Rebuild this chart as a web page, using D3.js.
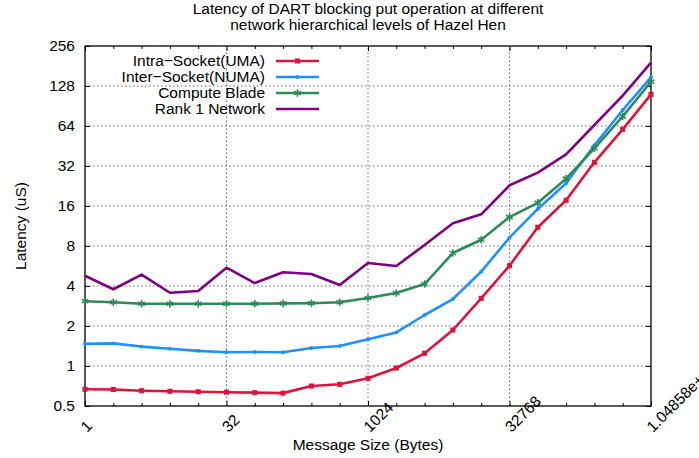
<!DOCTYPE html>
<html>
<head>
<meta charset="utf-8">
<script src="https://cdn.jsdelivr.net/npm/d3@7"></script>
<style>
  body { margin: 0; background: #fff; }
  svg { display: block; font-family: "Liberation Sans", Arial, sans-serif; }
</style>
</head>
<body>
<svg id="chart" width="699" height="458"></svg>
<script>
// Message sizes (bytes)
const sizes = [1, 2, 4, 8, 16, 32, 64, 128, 256, 512, 1024, 2048, 4096, 8192, 16384,
  32768, 65536, 131072, 262144, 524288, 1048576];

// Latency in microseconds per level
const intraSocket = [0.668, 0.665, 0.652, 0.645, 0.64, 0.635, 0.63, 0.625, 0.707, 0.728, 0.808,
  0.966, 1.246, 1.866, 3.23, 5.69, 11.06, 17.66, 34.1, 60.4, 110.8];
const interSocket = [1.47, 1.48, 1.40, 1.35, 1.30, 1.27, 1.275, 1.27, 1.366, 1.414, 1.59,
  1.79, 2.42, 3.19, 5.13, 9.24, 15.2, 23.7, 45.8, 84.4, 148.8];
const computeBlade = [3.07, 3.02, 2.94, 2.94, 2.94, 2.94, 2.94, 2.96, 2.97, 3.02, 3.25,
  3.54, 4.14, 7.09, 8.92, 13.2, 16.9, 25.7, 43.5, 75.7, 137.9];
const rank1Network = [4.78, 3.78, 4.87, 3.56, 3.67, 5.49, 4.21, 5.07, 4.92, 4.07, 5.96,
  5.66, 8.14, 11.86, 13.86, 22.9, 28.5, 39.2, 65.1, 108.2, 191.7];

const seriesNames = ["Intra\u2212Socket(UMA)", "Inter\u2212Socket(NUMA)", "Compute Blade", "Rank 1 Network"];
const xTickValues = [1, 32, 1024, 32768, 1048576];
const xTickLabels = ["1", "32", "1024", "32768", "1.04858e+06"];
const yTickValues = [0.5, 1, 2, 4, 8, 16, 32, 64, 128, 256];

const series = [
  { name: seriesNames[0], values: intraSocket, color: "#dc143c", marker: "square" },
  { name: seriesNames[1], values: interSocket, color: "#1e90ff", marker: "circle" },
  { name: seriesNames[2], values: computeBlade, color: "#2e8b57", marker: "star" },
  { name: seriesNames[3], values: rank1Network, color: "#800080", marker: "none" }
];

const margin = { top: 46, right: 48, bottom: 52, left: 85 };
const width = 699, height = 458;
const fs = "15.5px";

const svg = d3.select("#chart");
svg.selectAll("*").remove();

const x = d3.scaleLog().base(2).domain([1, 1048576]).range([margin.left, width - margin.right]);
const y = d3.scaleLog().base(2).domain([0.5, 256]).range([height - margin.bottom, margin.top]);

// Title
svg.append("text")
  .attr("x", 368).attr("y", 14)
  .attr("text-anchor", "middle").attr("font-size", fs)
  .selectAll("tspan")
  .data(["Latency of DART blocking put operation at different", "network hierarchical levels of Hazel Hen"])
  .enter().append("tspan")
  .attr("x", 368).attr("dy", (d, i) => i === 0 ? 0 : 16)
  .text(d => d);

// Grid
const grid = svg.append("g").attr("stroke", "#666").attr("stroke-width", 1).attr("stroke-dasharray", "1.5,2.5");
grid.selectAll("line.gy")
  .data(yTickValues.slice(1, -1))
  .enter().append("line")
  .attr("x1", x.range()[0]).attr("x2", x.range()[1])
  .attr("y1", d => y(d)).attr("y2", d => y(d));
grid.selectAll("line.gx")
  .data(xTickValues.slice(1, -1))
  .enter().append("line")
  .attr("x1", d => x(d)).attr("x2", d => x(d))
  .attr("y1", y.range()[0]).attr("y2", y.range()[1]);

// Axes (ticks pointing inward, mirrored)
const axisLeft = d3.axisLeft(y).tickValues(yTickValues).tickFormat(d => d).tickSizeInner(-5).tickSizeOuter(0).tickPadding(10);
svg.append("g").attr("transform", `translate(${margin.left},0)`).call(axisLeft)
  .call(g => g.select(".domain").remove())
  .call(g => g.selectAll("text").attr("font-size", fs).attr("fill", "#000").attr("font-family", null));

svg.append("g").attr("transform", `translate(${width - margin.right},0)`)
  .call(d3.axisRight(y).tickValues(yTickValues).tickFormat("").tickSizeInner(-5).tickSizeOuter(0))
  .call(g => g.select(".domain").remove());

const bottom = svg.append("g").attr("transform", `translate(0,${height - margin.bottom})`)
  .call(d3.axisBottom(x).tickValues(sizes).tickFormat("").tickSizeInner(-3).tickSizeOuter(0))
  .call(g => g.select(".domain").remove());
bottom.selectAll(".tick line").filter(d => xTickValues.includes(d)).attr("y2", -5);

svg.append("g").attr("transform", `translate(0,${margin.top})`)
  .call(d3.axisTop(x).tickValues(sizes).tickFormat("").tickSizeInner(-3).tickSizeOuter(0))
  .call(g => g.select(".domain").remove())
  .selectAll(".tick line").filter(d => xTickValues.includes(d)).attr("y2", 5);

// Rotated x tick labels (the last one runs off the right edge, as in the original)
svg.append("g").selectAll("text")
  .data(xTickValues)
  .enter().append("text")
  .attr("transform", d => `translate(${x(d) + 2},${height - margin.bottom + 27}) rotate(-45)`)
  .attr("font-size", fs)
  .text((d, i) => xTickLabels[i]);

// Border
svg.append("rect")
  .attr("x", margin.left).attr("y", margin.top)
  .attr("width", width - margin.left - margin.right)
  .attr("height", height - margin.top - margin.bottom)
  .attr("fill", "none").attr("stroke", "#000").attr("stroke-width", 1.3);

// Axis labels
svg.append("text")
  .attr("x", 368).attr("y", 450)
  .attr("text-anchor", "middle").attr("font-size", fs)
  .text("Message Size (Bytes)");
svg.append("text")
  .attr("transform", `translate(26,226) rotate(-90)`)
  .attr("text-anchor", "middle").attr("font-size", fs)
  .text("Latency (uS)");

// Marker drawing
function drawMarker(sel, marker, color) {
  if (marker === "square") {
    sel.append("path").attr("d", d3.symbol(d3.symbolSquare, 26)()).attr("fill", color);
  } else if (marker === "circle") {
    sel.append("path").attr("d", d3.symbol(d3.symbolCircle, 12)()).attr("fill", color);
  } else if (marker === "star") {
    sel.append("path").attr("d", d3.symbol(d3.symbolAsterisk, 40)()).attr("fill", "none")
      .attr("stroke", color).attr("stroke-width", 1.6);
  }
}

// Lines
const line = d3.line().x((d, i) => x(sizes[i])).y(d => y(d));
const plot = svg.append("g");
series.forEach(s => {
  plot.append("path")
    .datum(s.values)
    .attr("fill", "none")
    .attr("stroke", s.color)
    .attr("stroke-width", 2.6)
    .attr("stroke-linejoin", "round")
    .attr("d", line);
  plot.append("g").selectAll("g")
    .data(s.values)
    .enter().append("g")
    .attr("transform", (d, i) => `translate(${x(sizes[i])},${y(d)})`)
    .each(function () { drawMarker(d3.select(this), s.marker, s.color); });
});

// Legend
const legend = svg.append("g");
series.forEach((s, i) => {
  const ly = 61 + i * 16;
  legend.append("text")
    .attr("x", 265).attr("y", ly).attr("dy", "0.35em")
    .attr("text-anchor", "end").attr("font-size", fs)
    .text(s.name);
  legend.append("line")
    .attr("x1", 276).attr("x2", 319).attr("y1", ly).attr("y2", ly)
    .attr("stroke", s.color).attr("stroke-width", 2.6);
  const m = legend.append("g").attr("transform", `translate(297.5,${ly})`);
  drawMarker(m, s.marker, s.color);
});
</script>
</body>
</html>
